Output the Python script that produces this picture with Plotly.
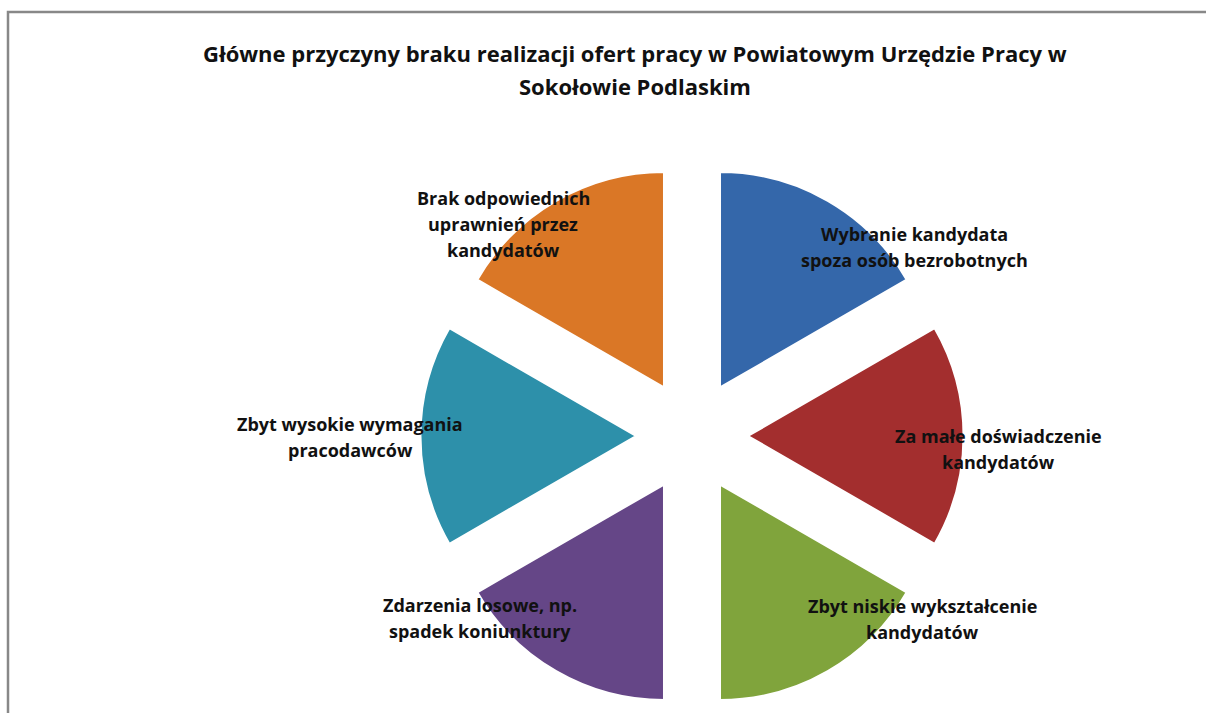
import plotly.graph_objects as go

# ---- data ----
categories = [
    "Wybranie kandydata<br>spoza osób bezrobotnych",
    "Za małe doświadczenie<br>kandydatów",
    "Zbyt niskie wykształcenie<br>kandydatów",
    "Zdarzenia losowe, np.<br>spadek koniunktury",
    "Zbyt wysokie wymagania<br>pracodawców",
    "Brak odpowiednich<br>uprawnień przez<br>kandydatów",
]
values = [1, 1, 1, 1, 1, 1]
title_lines = ["Główne przyczyny braku realizacji ofert pracy w Powiatowym Urzędzie Pracy w",
               "Sokołowie Podlaskim"]

# ---- style ----
colors = ["#3467AA", "#A32E2E", "#80A43C", "#654687", "#2D90AA", "#DA7726"]
W, H = 1206, 713
FONT = "Open Sans"
# label block centres in pixels (placement)
label_px = [(914, 247), (998, 449), (922, 619), (480, 618), (350, 437), (503, 224)]
line_gap = 26
title_px = [(635, 53), (635, 86)]

cx, cy = 692, 436
pull = 0.26
r = 215.5
half_h = r * (1 + pull)

fig = go.Figure(go.Pie(
    labels=categories,
    values=values,
    sort=False,
    direction="clockwise",
    rotation=0,
    pull=[pull] * len(values),
    marker=dict(colors=colors, line=dict(color="white", width=2)),
    textinfo="none",
    hoverinfo="label",
    showlegend=False,
    domain=dict(x=[(cx - 330) / W, (cx + 330) / W],
                y=[(H - (cy + half_h)) / H, (H - (cy - half_h)) / H]),
))

annotations = []
for txt, (px, py) in zip(categories, label_px):
    lines = txt.split("<br>")
    n = len(lines)
    for i, ln in enumerate(lines):
        ly = py + (i - (n - 1) / 2) * line_gap
        annotations.append(dict(
            text=ln, x=px / W, y=(H - ly) / H, xref="paper", yref="paper",
            xanchor="center", yanchor="middle", showarrow=False, align="center",
            font=dict(family=FONT, size=18, color="#111111", weight="bold"),
        ))
for ln, (px, py) in zip(title_lines, title_px):
    annotations.append(dict(
        text=ln, x=px / W, y=(H - py) / H, xref="paper", yref="paper",
        xanchor="center", yanchor="middle", showarrow=False, align="center",
        font=dict(family=FONT, size=22, color="#111111", weight="bold"),
    ))

fig.update_layout(
    width=W, height=H,
    margin=dict(l=0, r=0, t=0, b=0),
    paper_bgcolor="white",
    plot_bgcolor="white",
    annotations=annotations,
    shapes=[dict(type="rect", xref="paper", yref="paper",
                 x0=8 / W, x1=1.05, y0=-0.05, y1=(H - 12) / H,
                 line=dict(color="#888888", width=2.5), fillcolor="rgba(0,0,0,0)",
                 layer="below")],
)

fig.write_html("out.html", config={"displayModeBar": False},
               post_script="document.body.style.margin='0';document.body.style.overflow='hidden';")
